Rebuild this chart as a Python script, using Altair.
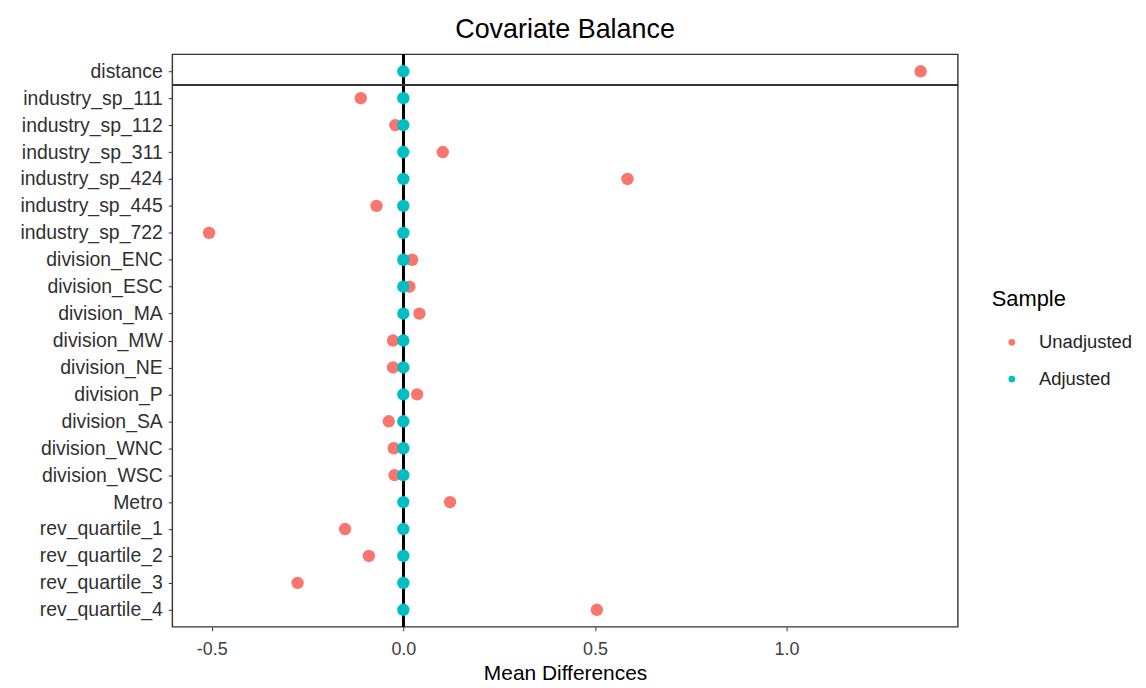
import altair as alt
import pandas as pd

covariates = [
    "distance", "industry_sp_111", "industry_sp_112", "industry_sp_311",
    "industry_sp_424", "industry_sp_445", "industry_sp_722", "division_ENC",
    "division_ESC", "division_MA", "division_MW", "division_NE", "division_P",
    "division_SA", "division_WNC", "division_WSC", "Metro", "rev_quartile_1",
    "rev_quartile_2", "rev_quartile_3", "rev_quartile_4",
]
unadjusted = [
    1.350, -0.111, -0.021, 0.103, 0.585, -0.070, -0.507, 0.023,
    0.016, 0.042, -0.027, -0.027, 0.036, -0.038, -0.025, -0.023,
    0.122, -0.152, -0.090, -0.276, 0.505,
]
adjusted = [
    0.0, 0.0, 0.0, 0.0, 0.0, 0.0, 0.0, 0.0, 0.0, 0.0, 0.0,
    0.0, 0.0, 0.0, 0.0, 0.0, 0.0, 0.0, 0.0, 0.0, 0.0,
]
samples = ["Unadjusted", "Adjusted"]
colors = ["#F8766D", "#00BFC4"]
x_ticks = [-0.5, 0.0, 0.5, 1.0]

rows = []
for name, vals in zip(samples, [unadjusted, adjusted]):
    for c, v in zip(covariates, vals):
        rows.append({"var": c, "diff": v, "Sample": name})
df = pd.DataFrame(rows)

FONT = "Liberation Sans"

xscale = alt.Scale(domain=[-0.603, 1.447], nice=False, zero=False)
yscale = alt.Scale(type="point", domain=covariates, padding=0.63)

base = alt.Chart(df)

zero_rule = base.mark_rule(color="black", strokeWidth=1.6).encode(
    x=alt.X(datum=0, type="quantitative", scale=xscale)
)

sep_rule = base.mark_rule(color="#333333", strokeWidth=1.4, yOffset=13.5).encode(
    y=alt.Y(datum="distance", type="nominal", scale=yscale)
)

points = base.mark_circle(size=155, opacity=1).encode(
    x=alt.X(
        "diff:Q",
        scale=xscale,
        axis=alt.Axis(
            title="Mean Differences",
            values=x_ticks,
            labelExpr="datum.value < 0 ? '-' + format(-datum.value, '.1f') : format(datum.value, '.1f')",
            grid=False,
            domain=False,
            tickColor="#333333",
            tickSize=4,
            labelFontSize=18,
            labelColor="#404040",
            labelPadding=10,
            titleFontSize=21,
            titleFontWeight="normal",
            titleColor="black",
            titlePadding=4,
            labelFont=FONT,
            titleFont=FONT,
        ),
    ),
    y=alt.Y(
        "var:N",
        scale=yscale,
        sort=covariates,
        axis=alt.Axis(
            title=None,
            grid=False,
            domain=False,
            tickColor="#333333",
            tickSize=4,
            labelFontSize=19.5,
            labelColor="#303030",
            labelPadding=6,
            labelFont=FONT,
        ),
    ),
    color=alt.Color(
        "Sample:N",
        scale=alt.Scale(domain=samples, range=colors),
        sort=samples,
        legend=alt.Legend(
            title="Sample",
            orient="none",
            legendX=823,
            legendY=236,
            titleFontSize=22,
            titleFontWeight="normal",
            titleColor="black",
            titleFont=FONT,
            titlePadding=22,
            labelFontSize=18.5,
            labelColor="#222222",
            labelFont=FONT,
            symbolType="circle",
            symbolSize=45,
            symbolOffset=11,
            labelOffset=18,
            rowPadding=18,
            padding=0,
        ),
    ),
    order=alt.Order("order:Q"),
).transform_calculate(order="datum.Sample == 'Unadjusted' ? 0 : 1")

chart = (
    alt.layer(zero_rule, sep_rule, points)
    .properties(
        width=789,
        height=575,
        title=alt.TitleParams(
            "Covariate Balance",
            fontSize=27,
            fontWeight="normal",
            color="black",
            font=FONT,
            anchor="middle",
            offset=10,
        ),
        padding={"left": 11, "top": 6, "right": 5, "bottom": 5},
    )
    .configure(font=FONT, background="white")
    .configure_view(stroke="#333333", strokeWidth=1.4)
)

chart.save("out.html", embed_options={"renderer": "svg", "actions": False})
